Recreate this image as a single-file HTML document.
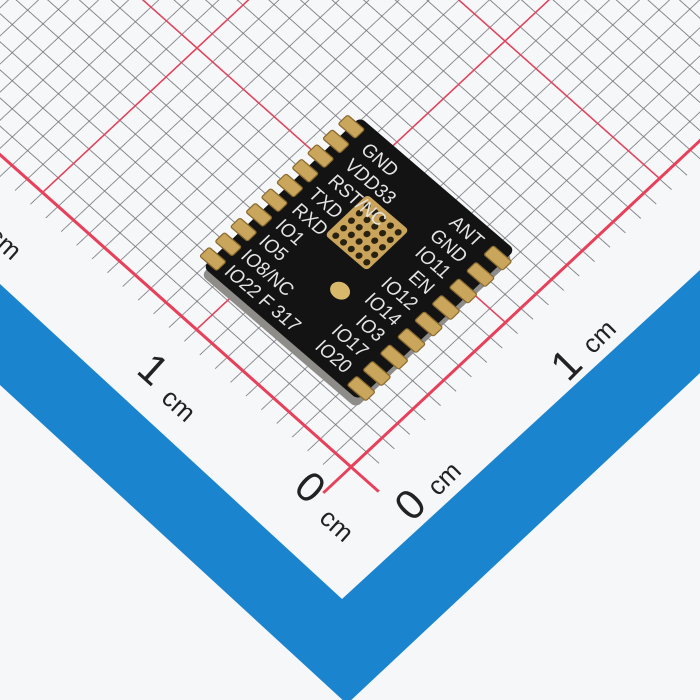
<!DOCTYPE html>
<html><head><meta charset="utf-8"><style>
html,body{margin:0;padding:0;background:#f6f7f9;}
svg{display:block}
</style></head><body>
<svg width="700" height="700" viewBox="0 0 700 700" xmlns="http://www.w3.org/2000/svg">
<defs>
<pattern id="fine" patternUnits="userSpaceOnUse" width="1" height="1">
<path d="M0 0H1M0 0V1" stroke="#6c6c72" stroke-width="0.075" fill="none"/>
</pattern>
<pattern id="major" patternUnits="userSpaceOnUse" width="10" height="10">
<path d="M0 0H10M0 0V10" stroke="#e8405a" stroke-width="0.14" fill="none"/>
</pattern>
</defs>
<rect width="700" height="700" fill="#f6f7f9"/>
<!-- grid -->
<g transform="matrix(15.4,-14.4,-15.4,-13.7,351,467)">
<rect x="-0.8" y="-0.8" width="40" height="40" fill="url(#fine)"/>
<rect x="-0.02" y="-0.02" width="40" height="40" fill="url(#major)"/>
<rect x="-1.8" y="-0.07" width="40" height="0.14" fill="#e8405a"/>
<rect x="-0.07" y="-1.8" width="0.14" height="40" fill="#e8405a"/>
</g>
<!-- blue V band -->
<polygon points="0,284 342,599 700,270 700,373 347,704 0,385" fill="#1a84cf"/>
<!-- labels -->
<g font-family="Liberation Sans, sans-serif" fill="#222">
<text transform="translate(-14,238) rotate(42)" font-size="26">cm</text>
<text transform="translate(135,372) rotate(42)" font-size="42">1</text>
<text transform="translate(160,400) rotate(42)" font-size="26">cm</text>
<text transform="translate(292,490) rotate(42)" font-size="42">0</text>
<text transform="translate(318,520) rotate(42)" font-size="26">cm</text>
<text transform="translate(412,523) rotate(-45)" font-size="42">0</text>
<text transform="translate(438,497) rotate(-45)" font-size="26">cm</text>
<text transform="translate(568,383) rotate(-45)" font-size="42">1</text>
<text transform="translate(593,355) rotate(-45)" font-size="26">cm</text>
</g>
<!-- chip side -->
<g transform="translate(-2,8) matrix(1.55,1.33,-1.57,1.50,360,117)">
<rect x="0" y="0" width="100" height="100" rx="3" fill="#8e8c88"/>
</g>
<g transform="matrix(1.55,1.33,-1.57,1.50,360,117)">
<rect x="0" y="0" width="100" height="100" rx="3" fill="#131313"/>
<g fill="#caa65c" stroke="#8a6a2e" stroke-width="0.6">
<rect x="-5" y="3" width="11" height="6" rx="1"/>
<rect x="-5" y="12.8" width="11" height="6" rx="1"/>
<rect x="-5" y="22.6" width="11" height="6" rx="1"/>
<rect x="-5" y="32.4" width="11" height="6" rx="1"/>
<rect x="-5" y="42.2" width="11" height="6" rx="1"/>
<rect x="-5" y="52" width="11" height="6" rx="1"/>
<rect x="-5" y="61.8" width="11" height="6" rx="1"/>
<rect x="-5" y="71.6" width="11" height="6" rx="1"/>
<rect x="-5" y="81.4" width="11" height="6" rx="1"/>
<rect x="-5" y="91.2" width="11" height="6" rx="1"/>
<rect x="91" y="5" width="12" height="6" rx="1"/>
<rect x="91" y="16" width="12" height="6" rx="1"/>
<rect x="91" y="27" width="12" height="6" rx="1"/>
<rect x="91" y="38" width="12" height="6" rx="1"/>
<rect x="91" y="49" width="12" height="6" rx="1"/>
<rect x="91" y="60" width="12" height="6" rx="1"/>
<rect x="91" y="71" width="12" height="6" rx="1"/>
<rect x="91" y="82" width="12" height="6" rx="1"/>
<rect x="91" y="92" width="12" height="6" rx="1"/>
</g>
<rect x="30" y="25" width="27" height="27" rx="2" fill="#c9a45a"/>
<g fill="#2a2210">
<circle cx="34" cy="29" r="1.6"/><circle cx="39" cy="29" r="1.6"/><circle cx="44" cy="29" r="1.6"/><circle cx="49" cy="29" r="1.6"/><circle cx="54" cy="29" r="1.6"/>
<circle cx="34" cy="34" r="1.6"/><circle cx="39" cy="34" r="1.6"/><circle cx="44" cy="34" r="1.6"/><circle cx="49" cy="34" r="1.6"/><circle cx="54" cy="34" r="1.6"/>
<circle cx="34" cy="39" r="1.6"/><circle cx="39" cy="39" r="1.6"/><circle cx="44" cy="39" r="1.6"/><circle cx="49" cy="39" r="1.6"/><circle cx="54" cy="39" r="1.6"/>
<circle cx="34" cy="44" r="1.6"/><circle cx="39" cy="44" r="1.6"/><circle cx="44" cy="44" r="1.6"/><circle cx="49" cy="44" r="1.6"/><circle cx="54" cy="44" r="1.6"/>
<circle cx="34" cy="49" r="1.6"/><circle cx="39" cy="49" r="1.6"/><circle cx="44" cy="49" r="1.6"/><circle cx="49" cy="49" r="1.6"/><circle cx="54" cy="49" r="1.6"/>
</g>
<ellipse cx="55" cy="67" rx="5" ry="4" fill="#d8b86a"/>
<g font-family="Liberation Sans, sans-serif" font-size="9" fill="#e4e4e4">
<text x="12" y="12">GND</text>
<text x="12" y="22.5">VDD33</text>
<text x="12" y="33">RST/NC</text>
<text x="10" y="43.5">TXD</text>
<text x="10" y="54">RXD</text>
<text x="10" y="64.5">IO1</text>
<text x="10" y="75">IO5</text>
<text x="9" y="85.5">IO8/NC</text>
<text x="9" y="96">IO22 F 317</text>
<g text-anchor="end">
<text x="86" y="11">ANT</text>
<text x="86" y="21.5">GND</text>
<text x="86" y="32">IO11</text>
<text x="86" y="42.5">EN</text>
<text x="86" y="53">IO12</text>
<text x="86" y="63.5">IO14</text>
<text x="86" y="74">IO3</text>
<text x="86" y="84.5">IO17</text>
<text x="86" y="95">IO20</text>
</g>
</g>
</g>
</svg>
</body></html>
